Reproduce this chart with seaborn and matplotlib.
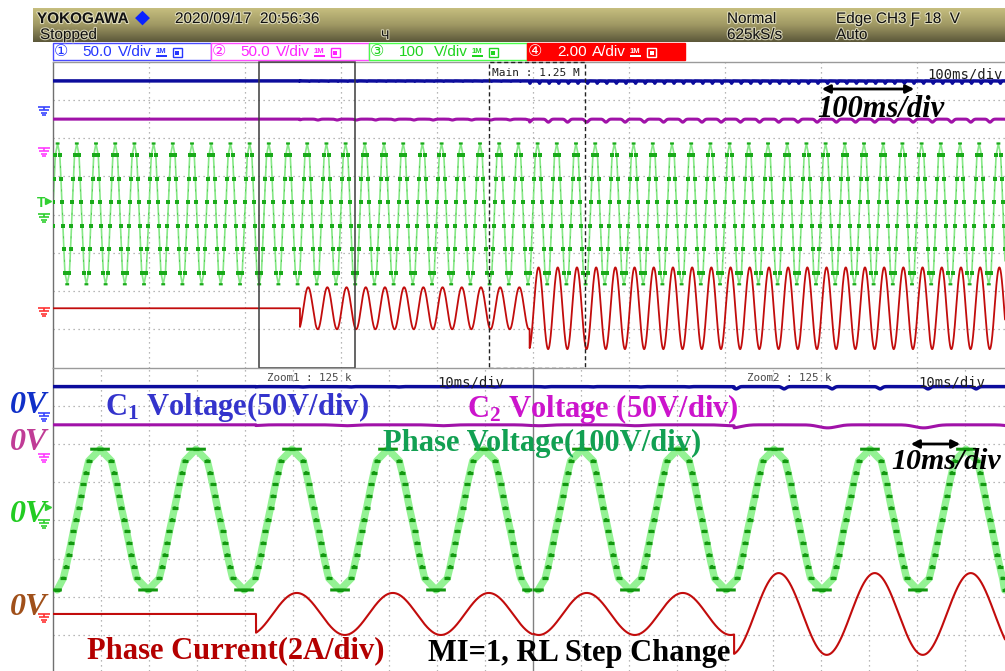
import numpy as np
import pandas as pd
import matplotlib
matplotlib.use("Agg")
import matplotlib.pyplot as plt
import seaborn as sns
from matplotlib.patches import Rectangle, FancyArrowPatch
from matplotlib.path import Path
from matplotlib.markers import MarkerStyle
import matplotlib.patheffects as pe
from matplotlib import font_manager

main_ms_per_div = 100.0
zoom_ms_per_div = 10.0
zoom1_start_ms = 215.4
zoom2_start_ms = 455.0
zoom_window_ms = 100.0
fundamental_hz = 50.0
voltage_phase_ms = 0.3

channel_labels = ["C1 Voltage", "C2 Voltage", "Phase Voltage", "Phase Current"]
channel_scale = [50.0, 50.0, 100.0, 2.0]          # units per division
channel_ground_div = [2.82, 1.74, 0.02, -2.45]    # ground marker positions (div)
trace_colors = ["#0c0c9c", "#a012a8", "#94f294", "#c20c0c"]
dark_green = "#12980f"
ground_colors = ["#3a46ff", "#ff3cff", "#30d030", "#ff3434"]

c1_dc_V = 34.0
c2_dc_V = 38.0
level_step_V = 30.7
switch_angles_deg = [5.0, 14.0, 23.0, 32.0, 42.0, 53.0]
step_times_ms = [257.8, 497.0]
current_amp_A = [0.0, 1.1, 2.14]
current_lag_ms = 1.0
c1_dip_V = [0.0, 0.5, 3.0]
c1_dip_phase_ms = 7.4
c2_dip_V = [0.0, 1.2, 4.0]
c2_dip_phase_ms = 16.5

# ---------------- fonts ----------------
sns.set_theme(style="white")
names = {f.name for f in font_manager.fontManager.ttflist}
NARROW = "Liberation Sans Narrow" if "Liberation Sans Narrow" in names else "DejaVu Sans Mono"
plt.rcParams["font.family"] = ["Liberation Sans", "DejaVu Sans", "Noto Sans CJK JP"]
plt.rcParams["mathtext.fontset"] = "custom"
plt.rcParams["mathtext.rm"] = "Liberation Serif:bold"
plt.rcParams["mathtext.it"] = "Liberation Serif:bold"
plt.rcParams["mathtext.bf"] = "Liberation Serif:bold"

W, H = 1005, 671
fig = plt.figure(figsize=(W / 100, H / 100), dpi=100)
fig.patch.set_facecolor("white")


def fx(x):
    return x / W


def fy(y):
    return 1 - y / H


# ---------------- layout (pixels) ----------------
X0, XSPLIT, YTOP, YMID = 52.5, 532.5, 61.8, 367.5
PXDIV_Y = (YMID - YTOP) / 8.0
PX_PER_MS_MAIN = 96.0 / main_ms_per_div
PX_PER_MS_ZOOM = 48.0 / zoom_ms_per_div

ax_main = fig.add_axes([fx(X0), fy(YMID), (W - X0) / W, (YMID - YTOP) / H])
ax_z1 = fig.add_axes([fx(X0), 0, (XSPLIT - X0) / W, (H - YMID) / H])
ax_z2 = fig.add_axes([fx(XSPLIT), 0, (W - XSPLIT) / W, (H - YMID) / H])

ax_main.set_xlim(0, (W - X0) / PX_PER_MS_MAIN)
ax_main.set_ylim(-4, 4)
z_ybot = 4 - (H - YMID) / PXDIV_Y
ax_z1.set_xlim(zoom1_start_ms, zoom1_start_ms + (XSPLIT - X0) / PX_PER_MS_ZOOM)
ax_z2.set_xlim(zoom2_start_ms, zoom2_start_ms + (W - XSPLIT) / PX_PER_MS_ZOOM)
for a in (ax_z1, ax_z2):
    a.set_ylim(z_ybot, 4)

ax_main.set_xticks(np.arange(1, 10) * main_ms_per_div)
ax_z1.set_xticks(zoom1_start_ms + np.arange(1, 10) * zoom_ms_per_div)
ax_z2.set_xticks(zoom2_start_ms + np.arange(1, 10) * zoom_ms_per_div)
for a in (ax_main, ax_z1, ax_z2):
    a.set_yticks(np.arange(-3, 4))
    a.set_facecolor("white")
    for s in a.spines.values():
        s.set_visible(False)
    a.tick_params(length=0, labelbottom=False, labelleft=False)
    a.grid(True, color="#a0a0a0", lw=0.9, ls=(0, (1, 3.0)))
    a.set_axisbelow(True)

for a in (ax_main, ax_z1):
    a.spines["left"].set_visible(True)
    a.spines["left"].set_color("#707070")
    a.spines["left"].set_linewidth(1.0)
for a in (ax_main, ax_z1, ax_z2):
    a.spines["top"].set_visible(True)
    a.spines["top"].set_color("#9a9a9a")
    a.spines["top"].set_linewidth(1.0)
ax_z2.spines["left"].set_visible(True)
ax_z2.spines["left"].set_color("#808080")
ax_z2.spines["left"].set_linewidth(1.0)


# ---------------- signals ----------------
def segment(t):
    return np.searchsorted(step_times_ms, t, side="right")


def phase_voltage(t):
    theta = (360.0 * fundamental_hz * (t - voltage_phase_ms) / 1000.0) % 360.0
    half = theta % 180.0
    quarter = np.where(half > 90.0, 180.0 - half, half)
    level = (quarter[:, None] >= np.array(switch_angles_deg)[None, :]).sum(axis=1)
    sign = np.where(theta < 180.0, 1.0, -1.0)
    return sign * level * level_step_V


def phase_current(t):
    amp = np.array(current_amp_A)[segment(t)]
    return amp * np.sin(2 * np.pi * fundamental_hz * (t - voltage_phase_ms - current_lag_ms) / 1000.0)


def c1_voltage(t):
    d = np.array(c1_dip_V)[segment(t)]
    return c1_dc_V - d * (0.5 + 0.5 * np.cos(2 * np.pi * 2 * fundamental_hz * (t - c1_dip_phase_ms) / 1000.0)) ** 28


def c2_voltage(t):
    d = np.array(c2_dip_V)[segment(t)]
    return c2_dc_V - d * (0.5 + 0.5 * np.cos(2 * np.pi * fundamental_hz * (t - c2_dip_phase_ms) / 1000.0)) ** 6


def to_div(values, ch):
    return channel_ground_div[ch] + values / channel_scale[ch]


def runs(t, v):
    change = np.flatnonzero(np.diff(v) != 0) + 1
    starts = np.r_[0, change]
    ends = np.r_[change, len(v)] - 1
    return (t[starts] + t[ends]) / 2.0, v[starts], change


def draw_panel(ax, t0, t1, n, zoomed):
    t = np.linspace(t0, t1, n)
    vp = to_div(phase_voltage(t), 2)
    mids, lev, change = runs(t, vp)
    vd = vp.copy()
    vd[change] = np.nan
    if zoomed:
        sns.lineplot(x=mids, y=lev, ax=ax, color=trace_colors[2], lw=5.2,
                     estimator=None, sort=False, errorbar=None, zorder=2)
        ax.plot(t, vd, color=dark_green, lw=2.2, zorder=3, solid_capstyle="butt")
        ax.plot(mids, lev, ls="none", marker="_", ms=4.5, mew=2.3, color=dark_green, zorder=3)
    else:
        sns.lineplot(x=mids, y=lev, ax=ax, color="#86e886", lw=1.2,
                     estimator=None, sort=False, errorbar=None, zorder=2)
        ax.plot(t, vd, color="#1aaa1a", lw=1.6, zorder=3, solid_capstyle="butt")
        ax.plot(mids[::2], lev[::2], ls="none", marker="s", ms=2.6, mew=0, color="#1aaa1a", zorder=3)

    df = pd.DataFrame({
        "t": t,
        "c1": to_div(c1_voltage(t), 0),
        "c2": to_div(c2_voltage(t), 1),
        "i": to_div(phase_current(t), 3),
    })
    sns.lineplot(data=df, x="t", y="c1", ax=ax, color=trace_colors[0], lw=2.5,
                 estimator=None, sort=False, errorbar=None, zorder=4)
    sns.lineplot(data=df, x="t", y="c2", ax=ax, color=trace_colors[1], lw=2.2,
                 estimator=None, sort=False, errorbar=None, zorder=4)
    sns.lineplot(data=df, x="t", y="i", ax=ax, color=trace_colors[3], lw=1.5 if zoomed else 1.3,
                 estimator=None, sort=False, errorbar=None, zorder=5)
    ax.set_xlabel("")
    ax.set_ylabel("")


draw_panel(ax_main, 0, ax_main.get_xlim()[1], 24000, False)
draw_panel(ax_z1, *ax_z1.get_xlim(), 12000, True)
draw_panel(ax_z2, *ax_z2.get_xlim(), 12000, True)

# zoom window boxes on the main screen
ax_main.add_patch(Rectangle((zoom1_start_ms, -4), zoom_window_ms, 8, fill=False,
                            ec="#3c3c3c", lw=1.1, zorder=6, clip_on=False))
ax_main.add_patch(Rectangle((zoom2_start_ms, -4), zoom_window_ms, 8, fill=False,
                            ec="#222222", lw=1.0, ls=(0, (3, 2)), zorder=6, clip_on=False))

# ground markers
gv = [(-6, 0), (6, 0), (0, 0), (0, -3), (-4.5, -3), (4.5, -3),
      (-3, -5.5), (3, -5.5), (-1.5, -8), (1.5, -8)]
gpath = Path(gv, [Path.MOVETO, Path.LINETO] * 5)
gmark = MarkerStyle(gpath)
for ax, xg in ((ax_main, -9.0 / PX_PER_MS_MAIN),
               (ax_z1, zoom1_start_ms - 9.0 / PX_PER_MS_ZOOM)):
    for ch in range(4):
        ax.plot([xg], [channel_ground_div[ch]], ls="none", marker=gmark, ms=12,
                mfc="none", mec=ground_colors[ch], mew=1.2, clip_on=False, zorder=7)

# trigger markers
fig.text(fx(37), fy(207), "T", color="#30d030", fontsize=10, fontweight="bold", va="baseline")
ax_main.plot([-4.5 / PX_PER_MS_MAIN], [0.36], ls="none", marker=">", ms=4, color="#30d030", clip_on=False)
ax_z1.plot([zoom1_start_ms - 4.5 / PX_PER_MS_ZOOM], [0.36], ls="none", marker=">", ms=4,
           color="#30d030", clip_on=False)

# ---------------- header ----------------
hax = fig.add_axes([fx(33), fy(42.5), (W - 33) / W, 34.5 / H])
grad_pos = np.linspace(0, 1, 64)
top_c = np.array([200, 192, 128]) / 255
mid_c = np.array([160, 153, 100]) / 255
bot_c = np.array([92, 88, 58]) / 255
grad = np.where(grad_pos[:, None] < 0.5,
                top_c + (mid_c - top_c) * (grad_pos[:, None] / 0.5),
                mid_c + (bot_c - mid_c) * ((grad_pos[:, None] - 0.5) / 0.5))
hax.imshow(grad[:, None, :], aspect="auto", extent=(0, 1, 0, 1))
hax.axis("off")

glow = [pe.withStroke(linewidth=1.6, foreground="#efecd2", alpha=0.75)]
hdr = dict(color="#111111", fontsize=11, va="baseline", path_effects=glow)
fig.text(fx(37), fy(23), "YOKOGAWA", fontweight="bold", **hdr)
fig.text(fx(142.5), fy(17), "◆", color="#0a22ff", fontsize=14, ha="center", va="center",
         family=["DejaVu Sans"])
fig.text(fx(175), fy(23), "2020/09/17  20:56:36", **hdr)
fig.text(fx(40), fy(39), "Stopped", **hdr)
fig.text(fx(381), fy(39), "Ч", color="#111111", fontsize=9, va="baseline", path_effects=glow)
fig.text(fx(727), fy(23), "Normal", **hdr)
fig.text(fx(727), fy(39), "625kS/s", **hdr)
fig.text(fx(836), fy(23), "Edge CH3 Ƒ 18  V", **hdr)
fig.text(fx(836), fy(39), "Auto", **hdr)

# channel boxes
boxes = [
    (52.5, 210.5, "#4a4aff", "white", "①", "50.0", "V/div", "#2436ff"),
    (210.5, 368.5, "#ff4aff", "white", "②", "50.0", "V/div", "#ff22ff"),
    (368.5, 527.0, "#4aff4a", "white", "③", "100", "V/div", "#1ed41e"),
    (527.0, 685.0, "#ff0000", "#ff0000", "④", "2.00", "A/div", "white"),
]
for x_a, x_b, ec, fc, num, val, unit, tc in boxes:
    fig.add_artist(Rectangle((fx(x_a), fy(60)), (x_b - x_a) / W, 17 / H,
                             transform=fig.transFigure, fc=fc, ec=ec, lw=1.0))
    fig.text(fx(x_a + 1), fy(56.5), num, color=tc, fontsize=11.5, va="baseline",
             family=["DejaVu Sans", "Noto Sans CJK JP"])
    fig.text(fx(x_a + 30), fy(56.5), val, color=tc, fontsize=11, va="baseline")
    fig.text(fx(x_a + 65), fy(56.5), unit, color=tc, fontsize=11, va="baseline")
    fig.text(fx(x_a + 103), fy(53), "1M", color=tc, fontsize=5.5, fontweight="bold", va="baseline")
    fig.add_artist(Rectangle((fx(x_a + 103), fy(56.5)), 11 / W, 1.6 / H,
                             transform=fig.transFigure, fc=tc, ec="none"))
    fig.add_artist(Rectangle((fx(x_a + 120), fy(57)), 9 / W, 9 / H,
                             transform=fig.transFigure, fc="none", ec=tc, lw=1.0))
    fig.add_artist(Rectangle((fx(x_a + 122.5), fy(54.5)), 4 / W, 4 / H,
                             transform=fig.transFigure, fc=tc, ec="none"))

# scope annotations
scope = dict(color="#202020", va="baseline", family=[NARROW, "DejaVu Sans"])
small = 12.5 if NARROW != "DejaVu Sans Mono" else 10
fig.text(fx(927), fy(79), "100ms/div", fontsize=small, **scope)
fig.text(fx(492), fy(76), "Main : 1.25 M", fontsize=small * 0.8, **scope)
fig.text(fx(267), fy(381), "Zoom1 : 125 k", fontsize=small * 0.78, color="#4a4a4a",
         va="baseline", family=[NARROW, "DejaVu Sans"])
fig.text(fx(747), fy(381), "Zoom2 : 125 k", fontsize=small * 0.78, color="#4a4a4a",
         va="baseline", family=[NARROW, "DejaVu Sans"])
fig.text(fx(437), fy(386), "10ms/div", fontsize=small, **scope)
fig.text(fx(918), fy(386), "10ms/div", fontsize=small, **scope)

# ---------------- overlay labels (bold Times) ----------------
serif = dict(family=["Liberation Serif", "DejaVu Serif"], fontweight="bold", va="baseline")
fig.text(fx(105), fy(415), r"C$_{1}$ Voltage(50V/div)", color="#3434cc", fontsize=22, **serif)
fig.text(fx(467), fy(417), r"C$_{2}$ Voltage (50V/div)", color="#cc14cc", fontsize=22, **serif)
fig.text(fx(383), fy(451), "Phase Voltage(100V/div)", color="#12a052", fontsize=22, **serif)
fig.text(fx(87), fy(658), "Phase Current(2A/div)", color="#b40000", fontsize=22, **serif)
fig.text(fx(428), fy(661), "MI=1, RL Step Change", color="black", fontsize=22, **serif)
fig.text(fx(817), fy(117), "100ms/div", color="black", fontsize=22, style="italic", **serif)
fig.text(fx(891), fy(469), "10ms/div", color="black", fontsize=21.5, style="italic", **serif)

for ytxt, col in ((413, "#1030c8"), (450, "#c03c96"), (522, "#22cc22"), (615, "#a0501a")):
    fig.text(fx(10), fy(ytxt), "0V", color=col, fontsize=23, style="italic", **serif)

for (xa, xb, yy) in ((819, 917, 89), (908, 963, 444)):
    fig.add_artist(FancyArrowPatch((fx(xa), fy(yy)), (fx(xb), fy(yy)), transform=fig.transFigure,
                                   arrowstyle="<|-|>", mutation_scale=12, lw=2.0, color="black"))

fig.savefig("out.png", dpi=100)
